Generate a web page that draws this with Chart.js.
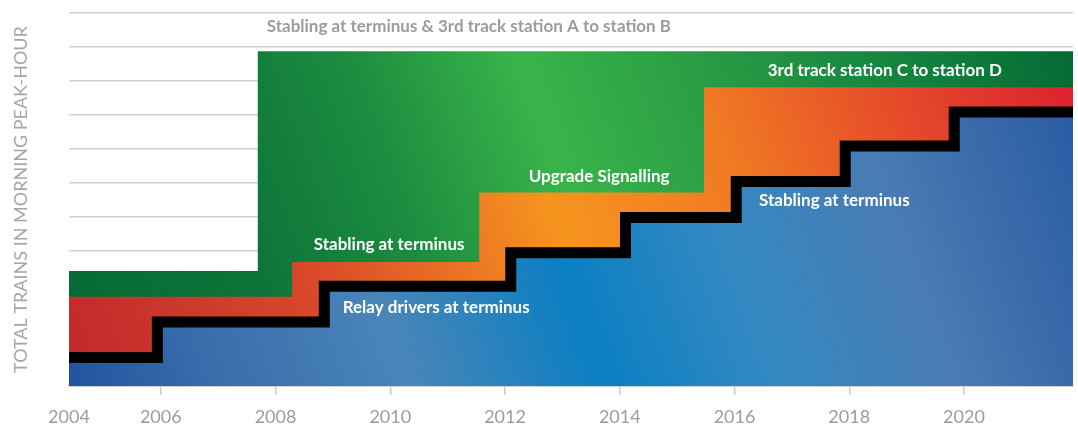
<!DOCTYPE html>
<html>
<head>
<meta charset="utf-8">
<script src="https://cdn.jsdelivr.net/npm/chart.js@4/dist/chart.umd.min.js"></script>
<style>
  html, body { margin: 0; padding: 0; background: #fff; }
  #wrap { position: relative; width: 1078px; height: 426px; }
</style>
</head>
<body>
<div id="wrap"><canvas id="trains"></canvas></div>
<script>
// x axis: years (left edge of the plot sits a little after 2004)
var axisStart = 2004.4;
var axisEnd = 2021.9;
var tickYears = [2004, 2006, 2008, 2010, 2012, 2014, 2016, 2018, 2020];

// existing service (blue, black step line on top)
var baseYears  = [2004, 2005.94, 2008.85, 2012.1, 2014.1, 2016.03, 2017.93, 2019.83, 2021.9];
var baseTrains = [0.84, 1.89, 2.94, 3.93, 4.97, 6.03, 7.08, 8.08, 8.08];

// with stabling / signalling upgrades (orange)
var upgradeYears  = [2004, 2008.29, 2011.55, 2015.47, 2021.9];
var upgradeTrains = [2.63, 3.66, 5.71, 8.81, 8.81];

// with 3rd track (green)
var trackYears  = [2004, 2007.69, 2021.9];
var trackTrains = [3.39, 9.87, 9.87];

// labels written on the areas
var noteTexts = [
  'Stabling at terminus & 3rd track station A to station B',
  '3rd track station C to station D',
  'Upgrade Signalling',
  'Stabling at terminus',
  'Relay drivers at terminus',
  'Stabling at terminus'
];
var noteYears  = [2011.37, 2018.62, 2013.64, 2009.98, 2010.8, 2017.74];
var noteLevels = [10.59, 9.29, 6.19, 4.16, 2.30, 5.46];

function pairs(xs, ys) {
  return xs.map(function(x, i) { return { x: x, y: ys[i] }; });
}

function diagonal(stops) {
  return function(context) {
    var chart = context.chart;
    var a = chart.chartArea;
    if (!a) return stops[0][1];
    var g = chart.ctx.createLinearGradient(a.left, a.bottom, a.right, a.top);
    stops.forEach(function(s) { g.addColorStop(s[0], s[1]); });
    return g;
  };
}

var notesPlugin = {
  id: 'notes',
  afterDatasetsDraw: function(chart, args, opts) {
    var ctx = chart.ctx;
    var x = chart.scales.x, y = chart.scales.y;
    ctx.save();
    ctx.font = opts.font;
    ctx.textAlign = 'center';
    ctx.textBaseline = 'middle';
    noteTexts.forEach(function(t, i) {
      ctx.fillStyle = i === 0 ? opts.muted : opts.color;
      ctx.fillText(t, x.getPixelForValue(noteYears[i]), y.getPixelForValue(noteLevels[i]));
    });
    ctx.restore();
  }
};

var ctx = document.getElementById('trains').getContext('2d');
new Chart(ctx, {
  type: 'line',
  data: {
    datasets: [
      {
        label: 'Existing',
        data: pairs(baseYears, baseTrains),
        stepped: true,
        fill: 'origin',
        backgroundColor: diagonal([[0, '#1f55a0'], [0.12, '#386bab'], [0.3, '#4a85b8'], [0.47, '#0a7fc2'], [0.62, '#3489c2'], [0.78, '#4a7bb3'], [1, '#2356a1']]),
        borderColor: '#000',
        borderWidth: 11,
        borderJoinStyle: 'miter',
        pointRadius: 0,
        pointHoverRadius: 0
      },
      {
        label: 'Upgrades',
        data: pairs(upgradeYears, upgradeTrains),
        stepped: true,
        fill: 'origin',
        backgroundColor: diagonal([[0, '#c1272d'], [0.25, '#d9492a'], [0.48, '#f7941e'], [0.65, '#f07a23'], [0.82, '#e5492a'], [1, '#da1c2f']]),
        borderColor: 'rgba(0,0,0,0)',
        borderWidth: 0,
        pointRadius: 0,
        pointHoverRadius: 0
      },
      {
        label: '3rd track',
        data: pairs(trackYears, trackTrains),
        stepped: true,
        fill: 'origin',
        backgroundColor: diagonal([[0, '#046a34'], [0.2, '#0c7439'], [0.35, '#1d8c40'], [0.5, '#39b44a'], [0.65, '#2a9d45'], [0.82, '#158640'], [1, '#036933']]),
        borderColor: 'rgba(0,0,0,0)',
        borderWidth: 0,
        pointRadius: 0,
        pointHoverRadius: 0
      }
    ]
  },
  plugins: [notesPlugin],
  options: {
    responsive: true,
    maintainAspectRatio: false,
    animation: false,
    layout: { padding: { top: 13, right: 5, left: 0, bottom: 0 } },
    plugins: {
      legend: { display: false },
      tooltip: { enabled: false },
      notes: { font: 'bold 17px Lato', color: '#ffffff', muted: '#9c9c9c' }
    },
    scales: {
      x: {
        type: 'linear',
        min: axisStart,
        max: axisEnd,
        afterBuildTicks: function(scale) {
          scale.ticks = tickYears.map(function(v) { return { value: Math.max(v, axisStart) }; });
        },
        afterFit: function(scale) { scale.height = 40; },
        grid: {
          drawOnChartArea: false,
          tickLength: 9,
          color: function(c) { return c.index === 0 ? 'rgba(0,0,0,0)' : '#cccccc'; },
          lineWidth: 1.5
        },
        border: { color: '#d0d0d0', width: 2 },
        ticks: {
          autoSkip: false,
          maxRotation: 0,
          padding: 11,
          color: '#9c9c9c',
          font: { family: 'Lato', size: 18 },
          callback: function(v, i) { return String(tickYears[i]); }
        }
      },
      y: {
        min: 0,
        max: 11,
        afterFit: function(scale) { scale.width = 69; },
        ticks: { display: false, stepSize: 1 },
        grid: { color: '#d2d2d2', lineWidth: 1.5, drawTicks: false },
        border: { display: false },
        title: {
          display: true,
          text: 'TOTAL TRAINS IN MORNING PEAK-HOUR',
          color: '#a6a6a6',
          font: { family: 'Lato', size: 18 },
          padding: { top: 10, bottom: 0 }
        }
      }
    }
  }
});
</script>
</body>
</html>
